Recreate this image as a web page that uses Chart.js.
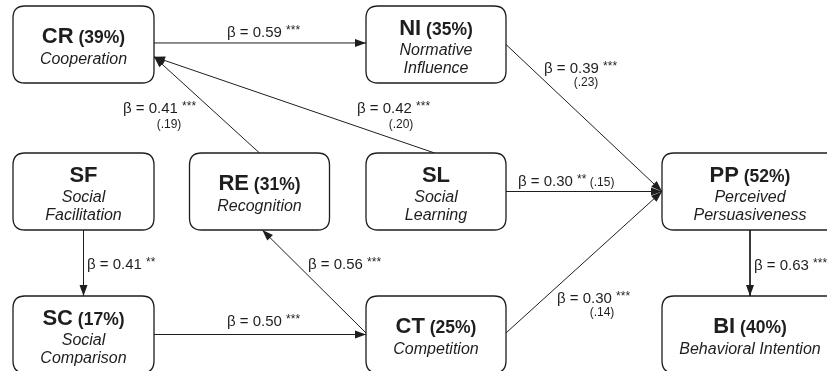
<!DOCTYPE html>
<html><head><meta charset="utf-8">
<script src="https://cdn.jsdelivr.net/npm/chart.js@4/dist/chart.umd.min.js"></script>
<style>html,body{margin:0;padding:0;background:#fff;overflow:hidden}</style>
</head><body>
<canvas id="c" width="827" height="371"></canvas>
<script>
// ---------- data ----------
const nodeIds   = ['CR','NI','SF','RE','SL','PP','SC','CT','BI'];
const nodeR2    = ['39%','35%',null,'31%',null,'52%','17%','25%','40%'];
const nodeNames = [['Cooperation'],['Normative','Influence'],['Social','Facilitation'],['Recognition'],
                   ['Social','Learning'],['Perceived','Persuasiveness'],['Social','Comparison'],['Competition'],['Behavioral Intention']];

const edgeFrom  = ['CR','NI','SL','RE','SL','CT','CT','SF','SC','PP'];
const edgeTo    = ['NI','PP','CR','CR','PP','PP','RE','SC','CT','BI'];
const edgeBeta  = ['0.59','0.39','0.42','0.41','0.30','0.30','0.56','0.41','0.50','0.63'];
const edgeStars = ['***','***','***','***','**','***','***','**','***','***'];
const edgeSE    = [null,'(.23)','(.20)','(.19)','(.15)','(.14)',null,null,null,null];

// ---------- layout (scale units) ----------
const nodeX = [83.5, 436, 83.5, 259.5, 436, 750, 83.5, 436, 750];
const nodeY = [44.5, 44.5, 191.5, 191.5, 191.5, 191.5, 334.5, 334.5, 334.5];
const nodeW = [141, 140, 141, 140, 140, 176, 141, 140, 176];
const nodeH = 77;
const fromAnchor = [[1,0.48],[1,0.5],[0.49,0],[0.5,0],[1,0.5],[1,0.48],[0,0.48],[0.5,1],[1,0.5],[0.5,1]];
const toAnchor   = [[0,0.48],[0,0.5],[1,0.66],[1,0.66],[0,0.5],[0,0.5],[0.52,1],[0.5,0],[0,0.5],[0.5,0]];
const labelPos   = [[227,37],[544,73],[357,113],[123,113],[518,186],[557,303],[308,269],[87,269],[227,326],[754,270]];
const sePos      = [null,[586,86],[401,128],[169,128],'inline',[602,316],null,null,null,null];

const FONT = '"Liberation Sans", Arial, Helvetica, sans-serif';
const INK = '#1e1e1e';

function anchorPt(id, a){
  const i = nodeIds.indexOf(id);
  return {x: nodeX[i] - nodeW[i]/2 + a[0]*nodeW[i], y: nodeY[i] - nodeH/2 + a[1]*nodeH};
}

const edgeDatasets = edgeFrom.map((f, k) => ({
  type: 'line',
  data: [anchorPt(f, fromAnchor[k]), anchorPt(edgeTo[k], toAnchor[k])],
  borderColor: INK, borderWidth: 1, pointRadius: 0, fill: false, clip: false, order: 2
}));

function rr(ctx, x, y, w, h, r){
  ctx.beginPath();
  ctx.moveTo(x+r, y);
  ctx.lineTo(x+w-r, y); ctx.quadraticCurveTo(x+w, y, x+w, y+r);
  ctx.lineTo(x+w, y+h-r); ctx.quadraticCurveTo(x+w, y+h, x+w-r, y+h);
  ctx.lineTo(x+r, y+h); ctx.quadraticCurveTo(x, y+h, x, y+h-r);
  ctx.lineTo(x, y+r); ctx.quadraticCurveTo(x, y, x+r, y);
  ctx.closePath();
}

const diagram = {
  id: 'diagram',
  afterDatasetsDraw(chart){
    const ctx = chart.ctx, sx = chart.scales.x, sy = chart.scales.y;
    ctx.save();
    // arrowheads
    edgeDatasets.forEach(ds => {
      const p0 = ds.data[0], p1 = ds.data[1];
      const x0 = sx.getPixelForValue(p0.x), y0 = sy.getPixelForValue(p0.y);
      const x1 = sx.getPixelForValue(p1.x), y1 = sy.getPixelForValue(p1.y);
      const ang = Math.atan2(y1-y0, x1-x0), L = 11, W = 4;
      ctx.fillStyle = INK;
      ctx.beginPath();
      ctx.moveTo(x1, y1);
      ctx.lineTo(x1 - L*Math.cos(ang) + W*Math.sin(ang), y1 - L*Math.sin(ang) - W*Math.cos(ang));
      ctx.lineTo(x1 - L*Math.cos(ang) - W*Math.sin(ang), y1 - L*Math.sin(ang) + W*Math.cos(ang));
      ctx.closePath(); ctx.fill();
    });
    // boxes
    nodeIds.forEach((id, i) => {
      const l = sx.getPixelForValue(nodeX[i] - nodeW[i]/2), r = sx.getPixelForValue(nodeX[i] + nodeW[i]/2);
      const t = sy.getPixelForValue(nodeY[i] - nodeH/2), b = sy.getPixelForValue(nodeY[i] + nodeH/2);
      rr(ctx, l, t, r-l, b-t, 12);
      ctx.fillStyle = '#fff'; ctx.fill();
      ctx.strokeStyle = INK; ctx.lineWidth = 1.3; ctx.stroke();
      const cx = (l+r)/2, cy = (t+b)/2;
      const three = nodeNames[i].length > 1;
      const tb = three ? cy - 10 : cy - 1.5;
      ctx.fillStyle = INK; ctx.textBaseline = 'alphabetic'; ctx.textAlign = 'left';
      ctx.font = 'bold 22px ' + FONT;
      const w1 = ctx.measureText(id).width;
      let w2 = 0, r2 = nodeR2[i] ? ' (' + nodeR2[i] + ')' : '';
      if (r2){ ctx.font = 'bold 17.5px ' + FONT; w2 = ctx.measureText(r2).width; }
      let x = cx - (w1+w2)/2;
      ctx.font = 'bold 22px ' + FONT; ctx.fillText(id, x, tb);
      if (r2){ ctx.font = 'bold 17.5px ' + FONT; ctx.fillText(r2, x + w1, tb); }
      ctx.font = 'italic 16px ' + FONT; ctx.textAlign = 'center';
      if (three){
        ctx.fillText(nodeNames[i][0], cx, cy + 10.5);
        ctx.fillText(nodeNames[i][1], cx, cy + 28);
      } else {
        ctx.fillText(nodeNames[i][0], cx, cy + 19.5);
      }
    });
    // edge labels
    edgeBeta.forEach((bv, k) => {
      let x = sx.getPixelForValue(labelPos[k][0]), y = sy.getPixelForValue(labelPos[k][1]);
      ctx.textAlign = 'left'; ctx.fillStyle = INK;
      ctx.font = '15px ' + FONT;
      const main = '\u03B2 = ' + bv + ' ';
      ctx.fillText(main, x, y);
      x += ctx.measureText(main).width;
      ctx.font = '12px ' + FONT;
      ctx.fillText(edgeStars[k], x, y - 3.5);
      x += ctx.measureText(edgeStars[k]).width;
      if (edgeSE[k]){
        ctx.font = '12px ' + FONT;
        if (sePos[k] === 'inline'){
          ctx.fillText(' ' + edgeSE[k], x, y);
        } else {
          ctx.textAlign = 'center';
          ctx.fillText(edgeSE[k], sx.getPixelForValue(sePos[k][0]), sy.getPixelForValue(sePos[k][1]));
        }
      }
    });
    ctx.restore();
  }
};

new Chart(document.getElementById('c'), {
  type: 'scatter',
  data: {
    datasets: [
      { label: 'nodes', data: nodeIds.map((id,i)=>({x:nodeX[i], y:nodeY[i]})), pointRadius: 0, order: 1 },
      ...edgeDatasets
    ]
  },
  options: {
    responsive: false, animation: false, devicePixelRatio: 1,
    layout: { padding: 0 },
    plugins: { legend: { display: false }, tooltip: { enabled: false } },
    scales: {
      x: { type: 'linear', min: 0, max: 827, display: false },
      y: { type: 'linear', min: 0, max: 371, reverse: true, display: false }
    }
  },
  plugins: [diagram]
});
</script>
</body></html>
